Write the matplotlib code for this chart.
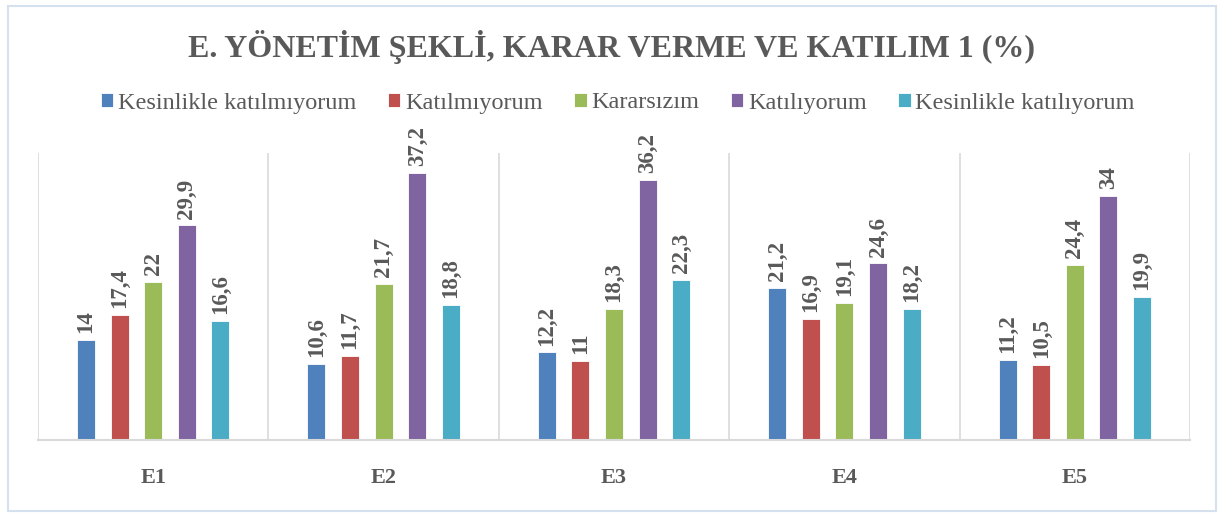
import matplotlib
matplotlib.use("Agg")
import matplotlib.pyplot as plt
import numpy as np
from matplotlib.patches import Rectangle

categories = ["E1", "E2", "E3", "E4", "E5"]
series_names = ["Kesinlikle katılmıyorum", "Katılmıyorum", "Kararsızım",
                "Katılıyorum", "Kesinlikle katılıyorum"]
kesinlikle_katilmiyorum = [14, 10.6, 12.2, 21.2, 11.2]
katilmiyorum = [17.4, 11.7, 11, 16.9, 10.5]
kararsizim = [22, 21.7, 18.3, 19.1, 24.4]
katiliyorum = [29.9, 37.2, 36.2, 24.6, 34]
kesinlikle_katiliyorum = [16.6, 18.8, 22.3, 18.2, 19.9]
title = "E. YÖNETİM ŞEKLİ, KARAR VERME VE KATILIM 1 (%)"

series = [kesinlikle_katilmiyorum, katilmiyorum, kararsizim, katiliyorum, kesinlikle_katiliyorum]
colors = ["#4F81BD", "#C0504D", "#9BBB59", "#8064A2", "#4BACC6"]
txt = "#595959"

plt.rcParams['font.family'] = ['Liberation Serif', 'DejaVu Serif']

fig = plt.figure(figsize=(12.19, 5.13), dpi=100)
W, H = 1219, 513
ax = fig.add_axes([38 / W, (H - 440) / H, (1190 - 38) / W, (440 - 153) / H])

# outer chart border
fig.patches.append(Rectangle((8 / W, 2 / H), (1216 - 8) / W, (507 - 2) / H,
                             transform=fig.transFigure, fill=False,
                             edgecolor="#D6E1EF", linewidth=1.5))

x = np.arange(len(categories))
step = 0.146
bw = 0.078
for i, (name, vals, c) in enumerate(zip(series_names, series, colors)):
    pos = x + (i - 2) * step
    ax.bar(pos, vals, width=bw, color=c, label=name,
           edgecolor="white", linewidth=0.6)
    for xb, v in zip(pos, vals):
        lbl = f"{v:g}".replace(".", ",")
        ax.annotate(lbl, (xb, v), xytext=(0, 5), textcoords="offset points",
                    rotation=90, ha="center", va="bottom", fontsize=16.5,
                    fontweight="bold", color=txt)

ax.set_xlim(-0.5, len(categories) - 0.5)
ax.set_ylim(0, 40)
for s in ["top", "right", "left"]:
    ax.spines[s].set_visible(False)
ax.spines["bottom"].set_color("#D9D9D9")
ax.spines["bottom"].set_linewidth(1.5)
for b in np.arange(-0.5, len(categories), 1.0):
    ax.axvline(b, color="#D9D9D9", linewidth=1.2, zorder=0)
ax.set_yticks([])
ax.set_xticks(x)
ax.set_xticklabels(categories, fontsize=16, fontweight="bold", color=txt)
ax.tick_params(axis="x", length=0, pad=20)

fig.text(0.502, (H - 47) / H, title, ha="center", va="center", fontsize=23,
         fontweight="bold", color=txt)

leg = fig.legend(loc="center", bbox_to_anchor=(0.507, (H - 103) / H), ncol=5,
                 frameon=False, fontsize=17.5, handlelength=0.5, handleheight=0.5,
                 handletextpad=0.2, columnspacing=1.3, labelcolor=txt)

fig.savefig("out.png", dpi=100, facecolor="white")
